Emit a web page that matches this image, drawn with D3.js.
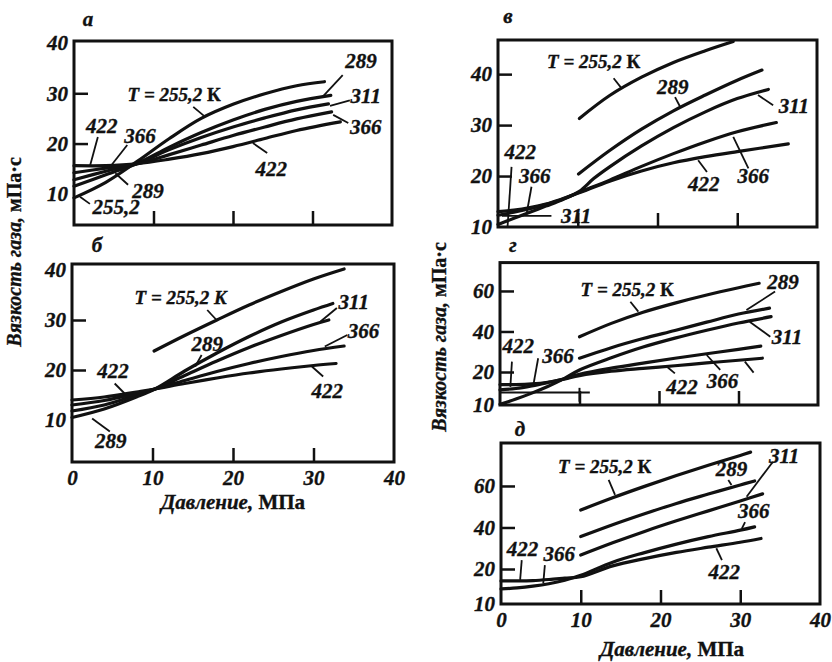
<!DOCTYPE html>
<html>
<head>
<meta charset="utf-8">
<script src="https://cdn.jsdelivr.net/npm/d3@7"></script>
<style>
  body { margin: 0; background: #fff; }
  text { font-family: "Liberation Serif", "Times New Roman", serif; font-weight: bold; font-style: italic; fill: #111; stroke: #111; stroke-width: 0.35px; }
  .up { font-style: normal; }
</style>
</head>
<body>
<svg id="chart" width="832" height="662"></svg>
<script>
// pressure (MPa) vs gas viscosity, one array of curves per panel
const seriesA = [
  { T: "255,2", pts: [[0,9.2],[4,12.3],[8,16.5],[12,21.0],[16,25.0],[20,27.8],[24,29.9],[28,31.5],[31.5,32.3]] },
  { T: "289", pts: [[0,11.5],[4,13.8],[8,16.1],[12,19.3],[16,22.2],[20,24.7],[24,26.8],[28,28.4],[32.3,29.6]] },
  { T: "311", pts: [[0,12.8],[4,14.5],[8,16.1],[12,18.8],[16,21.2],[20,23.3],[24,25.1],[28,26.7],[32,27.9]] },
  { T: "366", pts: [[0,14.2],[4,15.1],[8,16.0],[12,17.8],[16,19.7],[20,21.6],[24,23.3],[28,24.9],[32.4,26.3]] },
  { T: "422", pts: [[0,15.6],[4,15.6],[8,16.0],[12,16.9],[16,18.0],[20,19.4],[24,21.0],[28,22.6],[33.5,24.3]] }
];
const seriesB = [
  { T: "255,2", pts: [[10.2,23.8],[14,26.9],[18,30.0],[22,33.0],[26,35.7],[30,38.2],[33.8,40.2]] },
  { T: "289", pts: [[0,10.5],[4,12.2],[8,14.6],[10.3,16.2],[14,19.8],[18,23.4],[22,26.7],[26,29.6],[30,32.0],[32.4,33.3]] },
  { T: "311", pts: [[0,11.8],[4,13.0],[8,15.0],[10.3,16.2],[14,18.9],[18,21.8],[22,24.5],[26,26.9],[30,29.1],[31.9,30.0]] },
  { T: "366", pts: [[0,13.0],[4,13.9],[8,15.3],[10.3,16.2],[14,17.9],[18,19.7],[22,21.3],[26,22.7],[30,23.9],[33.8,24.8]] },
  { T: "422", pts: [[0,14.0],[4,14.6],[8,15.6],[10.3,16.2],[14,17.3],[18,18.4],[22,19.4],[26,20.2],[30,20.9],[32.8,21.3]] }
];
const seriesC = [
  { T: "255,2", pts: [[10.2,31.3],[14,35.8],[18,39.4],[22,42.3],[26,44.6],[29.5,46.4]] },
  { T: "289", pts: [[10.1,20.4],[14,25.0],[18,29.2],[22,32.8],[26,35.9],[30,38.8],[33.1,40.8]] },
  { T: "311", pts: [[0,10.5],[2,11.7],[4,12.9],[6,14.1],[8,15.3],[10.2,17.0],[12,19.5],[14,21.8],[18,25.9],[22,29.5],[26,32.6],[30,35.2],[33.9,37.0]] },
  { T: "366", pts: [[0,12.3],[2,12.9],[4,13.6],[6,14.4],[8,15.4],[10,16.7],[14,19.2],[18,21.9],[22,24.4],[26,26.7],[30,28.7],[34.9,30.5]] },
  { T: "422", pts: [[0,13.0],[2,13.3],[4,13.8],[6,14.5],[8,15.5],[10,16.6],[14,19.0],[18,21.0],[22,22.6],[26,23.8],[30,24.8],[36.4,26.3]] }
];
const seriesD = [
  { T: "255,2", pts: [[10,37.4],[14,44.0],[18,49.5],[22,54.0],[26,58.0],[30,61.6],[32.6,63.8]] },
  { T: "289", pts: [[10,26.8],[14,32.0],[18,36.5],[22,40.5],[26,44.6],[30,48.6],[33.9,51.5]] },
  { T: "311", pts: [[0,10.2],[2,11.8],[4,13.6],[6,15.6],[8,17.9],[10,21.0],[14,27.0],[18,32.3],[22,36.7],[26,40.6],[30,44.2],[34.1,47.3]] },
  { T: "366", pts: [[0,14.6],[2,15.0],[4,15.8],[6,16.8],[8,17.9],[10,19.3],[14,21.9],[18,24.4],[22,26.8],[26,29.0],[30,31.2],[32.8,32.8]] },
  { T: "422", pts: [[0,16.2],[2,16.2],[4,16.4],[6,16.9],[8,17.8],[10,18.9],[14,20.4],[18,21.8],[22,23.1],[26,24.5],[30,25.8],[33,26.8]] }
];
const seriesE = [
  { T: "255,2", pts: [[10,48.4],[14,54.3],[18,59.8],[22,65.0],[26,70.0],[30,74.7],[31.3,76.3]] },
  { T: "289", pts: [[10,35.6],[14,41.3],[18,46.6],[22,51.6],[26,56.1],[30,60.5],[31.8,62.4]] },
  { T: "311", pts: [[10,26.7],[14,32.6],[18,38.1],[22,43.2],[26,48.0],[30,52.8],[32.8,56.2]] },
  { T: "366", pts: [[0,14.3],[2,14.6],[4,15.1],[6,15.8],[8,16.8],[10,18.2],[14,23.3],[18,27.9],[22,32.0],[26,35.6],[30,38.7],[31.8,40.3]] },
  { T: "422", pts: [[0,16.6],[2,16.6],[4,16.7],[6,17.0],[8,17.4],[10,17.8],[14,21.5],[18,25.0],[22,28.0],[26,30.5],[30,32.9],[32.6,34.7]] }
];

// stray reference segment printed in panel г
const extraD = [[[0,13.8],[11.3,13.8]], [[10,15.2],[10,11]]];

// curve labels: text anchor and leader line, in data units
const labelsA = [
  { t: "T = 255,2 ", k: "К", at: [12.6,28.5], line: [[15.0,27.3],[16.5,25.3]] },
  { t: "289", at: [36.1,35.0], line: [[33.8,33.6],[31.2,29.2]] },
  { t: "311", at: [36.7,28.1], line: [[34.7,28.6],[32.2,27.5]] },
  { t: "366", at: [36.7,21.9], line: [[32.6,25.7],[34.5,24.1]] },
  { t: "422", at: [24.8,13.5], line: [[22.5,20.1],[24.3,18.1]] },
  { t: "422", at: [3.5,22.1], line: [[3.0,21.3],[2.0,15.5]] },
  { t: "366", at: [8.3,20.1], line: [[6.7,19.7],[4.5,15.3]] },
  { t: "289", at: [9.3,9.2], line: [[5.2,14.1],[6.8,11.8]] },
  { t: "255,2", at: [5.3,6.0], line: [[0.75,9.4],[2.0,8.0]] }
];
const labelsB = [
  { t: "T = 255,2 K", at: [13.5,33.2], line: [[16.8,32.0],[17.9,30.1]] },
  { t: "311", at: [35.0,32.2], line: [[32.9,32.4],[30.8,29.6]] },
  { t: "366", at: [36.2,26.4], line: [[34.2,27.0],[31.4,24.7]] },
  { t: "289", at: [16.8,23.8], line: [[16.1,23.0],[15.3,20.7]] },
  { t: "422", at: [31.7,14.4], line: [[29.8,20.7],[31.2,18.7]] },
  { t: "422", at: [5.1,18.4], line: [[5.3,17.3],[6.6,15.2]] },
  { t: "289", at: [4.8,4.4], line: [[2.5,10.3],[4.7,7.7]] }
];
const labelsC = [
  { t: "T = 255,2 ", k: "К", at: [12.0,41.2], line: [[14.5,39.2],[15.5,37.2]] },
  { t: "289", at: [21.9,36.1], line: [[22.2,35.5],[22.8,33.7]] },
  { t: "311", at: [37.1,32.4], line: [[32.6,35.9],[34.5,33.9]] },
  { t: "366", at: [32.0,18.6], line: [[29.5,27.7],[31.4,21.5]] },
  { t: "422", at: [25.8,17.1], line: [[25.1,23.1],[26.2,20.8]] },
  { t: "422", at: [2.8,23.3], line: [[1.7,21.8],[1.2,10.1]] },
  { t: "366", at: [4.6,18.6], line: [[4.2,17.9],[3.6,12.7]] },
  { t: "311", at: [9.8,10.8], line: [[0.5,12.2],[6.7,12.2]] }
];
const labelsD = [
  { t: "T = 255,2 ", k: "К", at: [16.0,57.5], line: [[16.4,54.7],[17.4,49.8]] },
  { t: "289", at: [35.6,61.0], line: [[34.6,59.7],[31.0,50.6]] },
  { t: "311", at: [36.1,33.8], line: [[34.0,37.4],[31.4,44.8]] },
  { t: "366", at: [28.0,15.2], line: [[27.7,21.1],[26.0,28.4]] },
  { t: "", line: [[30.8,25.1],[31.9,19.8]] },
  { t: "422", at: [22.9,13.3], line: [[22.0,19.6],[21.0,22.6]] },
  { t: "422", at: [2.3,29.4], line: [[1.5,25.1],[1.3,15.5]] },
  { t: "366", at: [7.3,24.4], line: [[4.8,26.8],[4.2,16.1]] }
];
const labelsE = [
  { t: "T = 255,2 ", k: "К", at: [13.0,66.3], line: [[13.5,62.9],[14.3,55.7]] },
  { t: "289", at: [28.9,64.8], line: [[28.5,62.9],[28.9,60.5]] },
  { t: "311", at: [35.5,71.1], line: [[34.1,71.7],[30.8,54.8]] },
  { t: "366", at: [31.7,44.6], line: [[30.6,42.6],[30.2,39.4]] },
  { t: "422", at: [28.0,17.1], line: [[27.0,30.0],[27.7,24.3]] },
  { t: "422", at: [2.7,26.3], line: [[2.6,24.3],[2.4,16.9]] },
  { t: "366", at: [7.3,23.9], line: [[5.5,21.9],[5.3,15.9]] }
];

const xLabelTicks = [0, 10, 20, 30, 40];
const xMarkTicks = [10, 20, 30];

// panel layout (pixels) and axes
const panels = [
  { name: "а", series: seriesA, labels: labelsA, xr: [74, 392], yd: [3.8, 40.4], yr: [225, 41],
    yMarks: [20, 30], yLabels: [10, 20, 30, 40], xLabels: false, title: [88, 26] },
  { name: "б", series: seriesB, labels: labelsB, xr: [72, 394], yd: [1.6, 41.2], yr: [462, 264],
    yMarks: [20, 30], yLabels: [10, 20, 30, 40], xLabels: true, title: [97, 252] },
  { name: "в", series: seriesC, labels: labelsC, xr: [498, 817], yd: [10, 46.7], yr: [227, 40],
    yMarks: [20, 30, 40], yLabels: [10, 20, 30, 40], xLabels: false, title: [508, 23] },
  { name: "г", series: seriesD, labels: labelsD, xr: [500, 818], yd: [10, 20, 74], yr: [405, 372, 262.6],
    yMarks: [20, 40, 60], yLabels: [10, 20, 40, 60], xLabels: false, title: [513, 252], extra: extraD },
  { name: "д", series: seriesE, labels: labelsE, xr: [501, 820], yd: [10, 20, 80.7], yr: [604, 569, 443],
    yMarks: [20, 40, 60], yLabels: [10, 20, 40, 60], xLabels: true, title: [520, 436] }
];

const svg = d3.select("#chart");

panels.forEach(p => {
  const x = d3.scaleLinear().domain([0, 40]).range(p.xr);
  const y = d3.scaleLinear().domain(p.yd).range(p.yr);
  const top = p.yr[p.yr.length - 1], bottom = p.yr[0];
  const g = svg.append("g");

  const line = d3.line()
    .x(d => x(d[0]))
    .y(d => y(d[1]))
    .curve(d3.curveCatmullRom.alpha(0.5));

  // curves
  g.selectAll("path.curve")
    .data(p.series)
    .enter()
    .append("path")
    .attr("class", "curve")
    .attr("d", d => line(d.pts))
    .attr("fill", "none")
    .attr("stroke", "#111")
    .attr("stroke-width", 3.2)
    .attr("stroke-linecap", "round");

  if (p.extra) {
    g.selectAll("path.extra")
      .data(p.extra)
      .enter()
      .append("path")
      .attr("d", d3.line().x(d => x(d[0])).y(d => y(d[1])))
      .attr("stroke", "#111")
      .attr("stroke-width", 2);
  }

  // frame
  g.append("rect")
    .attr("x", p.xr[0])
    .attr("y", top)
    .attr("width", p.xr[1] - p.xr[0])
    .attr("height", bottom - top)
    .attr("fill", "none")
    .attr("stroke", "#111")
    .attr("stroke-width", 3);

  // inward tick marks
  g.append("g")
    .attr("transform", `translate(0,${bottom})`)
    .call(d3.axisBottom(x).tickValues(xMarkTicks).tickSize(-14).tickFormat(""))
    .call(a => a.select(".domain").remove())
    .selectAll("line").attr("stroke", "#111").attr("stroke-width", 2.5);
  g.append("g")
    .attr("transform", `translate(${p.xr[0]},0)`)
    .call(d3.axisLeft(y).tickValues(p.yMarks).tickSize(-14).tickFormat(""))
    .call(a => a.select(".domain").remove())
    .selectAll("line").attr("stroke", "#111").attr("stroke-width", 2.5);

  // y tick labels
  g.append("g")
    .attr("transform", `translate(${p.xr[0]},0)`)
    .call(d3.axisLeft(y).tickValues(p.yLabels).tickSize(0).tickPadding(6))
    .call(a => a.select(".domain").remove())
    .selectAll("text")
    .style("font-size", "21px");

  if (p.xLabels) {
    g.append("g")
      .attr("transform", `translate(0,${bottom})`)
      .call(d3.axisBottom(x).tickValues(xLabelTicks).tickSize(0).tickPadding(8))
      .call(a => a.select(".domain").remove())
      .selectAll("text")
      .style("font-size", "21px");
  }

  // leader lines
  g.selectAll("line.leader")
    .data(p.labels)
    .enter()
    .append("line")
    .attr("x1", d => x(d.line[0][0]))
    .attr("y1", d => y(d.line[0][1]))
    .attr("x2", d => x(d.line[1][0]))
    .attr("y2", d => y(d.line[1][1]))
    .attr("stroke", "#111")
    .attr("stroke-width", 1.8);

  // curve labels
  const lab = g.selectAll("text.lab")
    .data(p.labels.filter(d => d.t))
    .enter()
    .append("text")
    .attr("x", d => x(d.at[0]))
    .attr("y", d => y(d.at[1]))
    .attr("text-anchor", "middle")
    .style("font-size", d => d.t.startsWith("T") ? "19px" : "21px");
  lab.append("tspan").text(d => d.t);
  lab.filter(d => d.k).append("tspan").attr("class", "up").text(d => d.k);

  // panel letter
  g.append("text")
    .attr("x", p.title[0])
    .attr("y", p.title[1])
    .attr("text-anchor", "middle")
    .style("font-size", "21px")
    .text(p.name);
});

// axis titles
function yTitle(cx, cy) {
  const t = svg.append("text")
    .attr("transform", `translate(${cx},${cy}) rotate(-90)`)
    .attr("text-anchor", "middle")
    .style("font-size", "20px");
  t.append("tspan").text("Вязкость газа, ");
  t.append("tspan").attr("class", "up").text("мПа·с");
}
function xTitle(cx, cy) {
  const t = svg.append("text")
    .attr("x", cx)
    .attr("y", cy)
    .attr("text-anchor", "middle")
    .style("font-size", "21px");
  t.append("tspan").text("Давление, ");
  t.append("tspan").attr("class", "up").text("МПа");
}
yTitle(21, 252);
yTitle(446, 337);
xTitle(233, 509);
xTitle(672, 656);
</script>
</body>
</html>
